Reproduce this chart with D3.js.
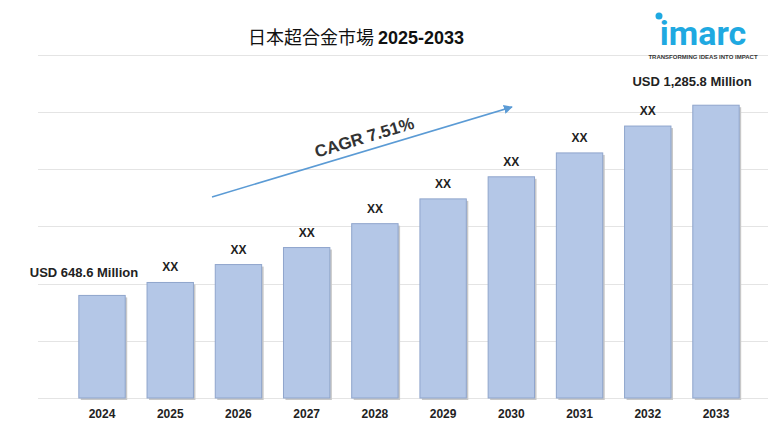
<!DOCTYPE html>
<html><head><meta charset="utf-8">
<script src="https://cdn.jsdelivr.net/npm/d3@7"></script>
<style>body{margin:0;background:#fff}svg{display:block;font-family:"Liberation Sans",Arial,sans-serif}</style>
</head><body><svg id="c" width="768" height="432"></svg>
<script>
// chart data
var years = ["2024","2025","2026","2027","2028","2029","2030","2031","2032","2033"];
var values = [648.6, 692, 752, 809, 889, 972, 1046, 1126, 1216, 1285.8];
var barLabels = ["USD 648.6 Million","XX","XX","XX","XX","XX","XX","XX","XX","USD 1,285.8 Million"];
var gridTicks = [305, 497, 688, 880, 1071, 1263, 1454];

var svg = d3.select("#c");
var x = d3.scaleBand().domain(years).range([72, 746]).paddingInner(0.32).paddingOuter(0.1);
var y = d3.scaleLinear().domain([305, 1454]).range([398, 55]);

// grid lines
svg.selectAll("line.g").data(gridTicks).enter().append("line")
  .attr("x1", 38).attr("x2", 768)
  .attr("y1", function(d){ return Math.round(y(d)) + 0.5; })
  .attr("y2", function(d){ return Math.round(y(d)) + 0.5; })
  .attr("stroke", "#e4e4e4");

// shadow + bars
svg.selectAll("rect.s").data(values).enter().append("rect")
  .attr("x", function(d,i){ return x(years[i]) + 2; })
  .attr("y", function(d){ return y(d) + 2; })
  .attr("width", x.bandwidth()).attr("height", function(d){ return 398 - y(d); })
  .attr("fill", "#c8c8c8");
svg.selectAll("rect.b").data(values).enter().append("rect")
  .attr("x", function(d,i){ return x(years[i]); })
  .attr("y", function(d){ return y(d); })
  .attr("width", x.bandwidth()).attr("height", function(d){ return 398 - y(d); })
  .attr("fill", "#b4c7e7").attr("stroke", "#8fa5cc").attr("stroke-width", 1);

// value labels
svg.selectAll("text.v").data(values).enter().append("text")
  .attr("x", function(d,i){
    if (i === 0) return 84; if (i === years.length-1) return 692;
    return x(years[i]) + x.bandwidth()/2; })
  .attr("y", function(d,i){ return i === 0 ? y(d) - 18 : (i === years.length-1 ? y(d) - 19 : y(d) - 11); })
  .attr("text-anchor", "middle")
  .attr("font-size", function(d,i){ return (i===0||i===years.length-1) ? 13 : 12; })
  .attr("font-weight", "bold").attr("fill", "#222")
  .text(function(d,i){ return barLabels[i]; });

// year labels
svg.selectAll("text.x").data(years).enter().append("text")
  .attr("x", function(d){ return x(d) + x.bandwidth()/2; })
  .attr("y", 418).attr("text-anchor", "middle")
  .attr("font-size", 12).attr("font-weight", "bold").attr("fill", "#222")
  .text(function(d){ return d; });

// title
svg.append("text").attr("x", 356).attr("y", 44).attr("text-anchor", "middle")
  .attr("font-size", 18).attr("fill", "#111")
  .html('<tspan font-family="Noto Sans CJK JP">日本超合金市場 </tspan><tspan font-weight="bold">2025-2033</tspan>');

// CAGR arrow
svg.append("defs").append("marker").attr("id","ah").attr("viewBox","0 0 10 10")
  .attr("refX",9).attr("refY",5).attr("markerWidth",6).attr("markerHeight",6).attr("orient","auto")
  .append("path").attr("d","M0,0L10,5L0,10z").attr("fill","#5b9bd5");
svg.append("line").attr("x1",212).attr("y1",197).attr("x2",512).attr("y2",107)
  .attr("stroke","#5b9bd5").attr("stroke-width",1.5).attr("marker-end","url(#ah)");
svg.append("text").attr("transform","translate(366,143) rotate(-16.7)")
  .attr("text-anchor","middle").attr("font-size",17).attr("font-weight","bold").attr("fill","#333")
  .text("CAGR 7.51%");

// logo
svg.append("circle").attr("cx",659).attr("cy",16).attr("r",3.5).attr("fill","#1fa9e1");
svg.append("text").attr("x",703).attr("y",45).attr("text-anchor","middle")
  .attr("font-size",34).attr("font-weight","bold").attr("fill","#1fa9e1").attr("font-family","Roboto")
  .text("imarc");
svg.append("text").attr("x",703).attr("y",59).attr("text-anchor","middle")
  .attr("font-size",6).attr("font-weight","bold").attr("fill","#333")
  .text("TRANSFORMING IDEAS INTO IMPACT");
</script></body></html>
